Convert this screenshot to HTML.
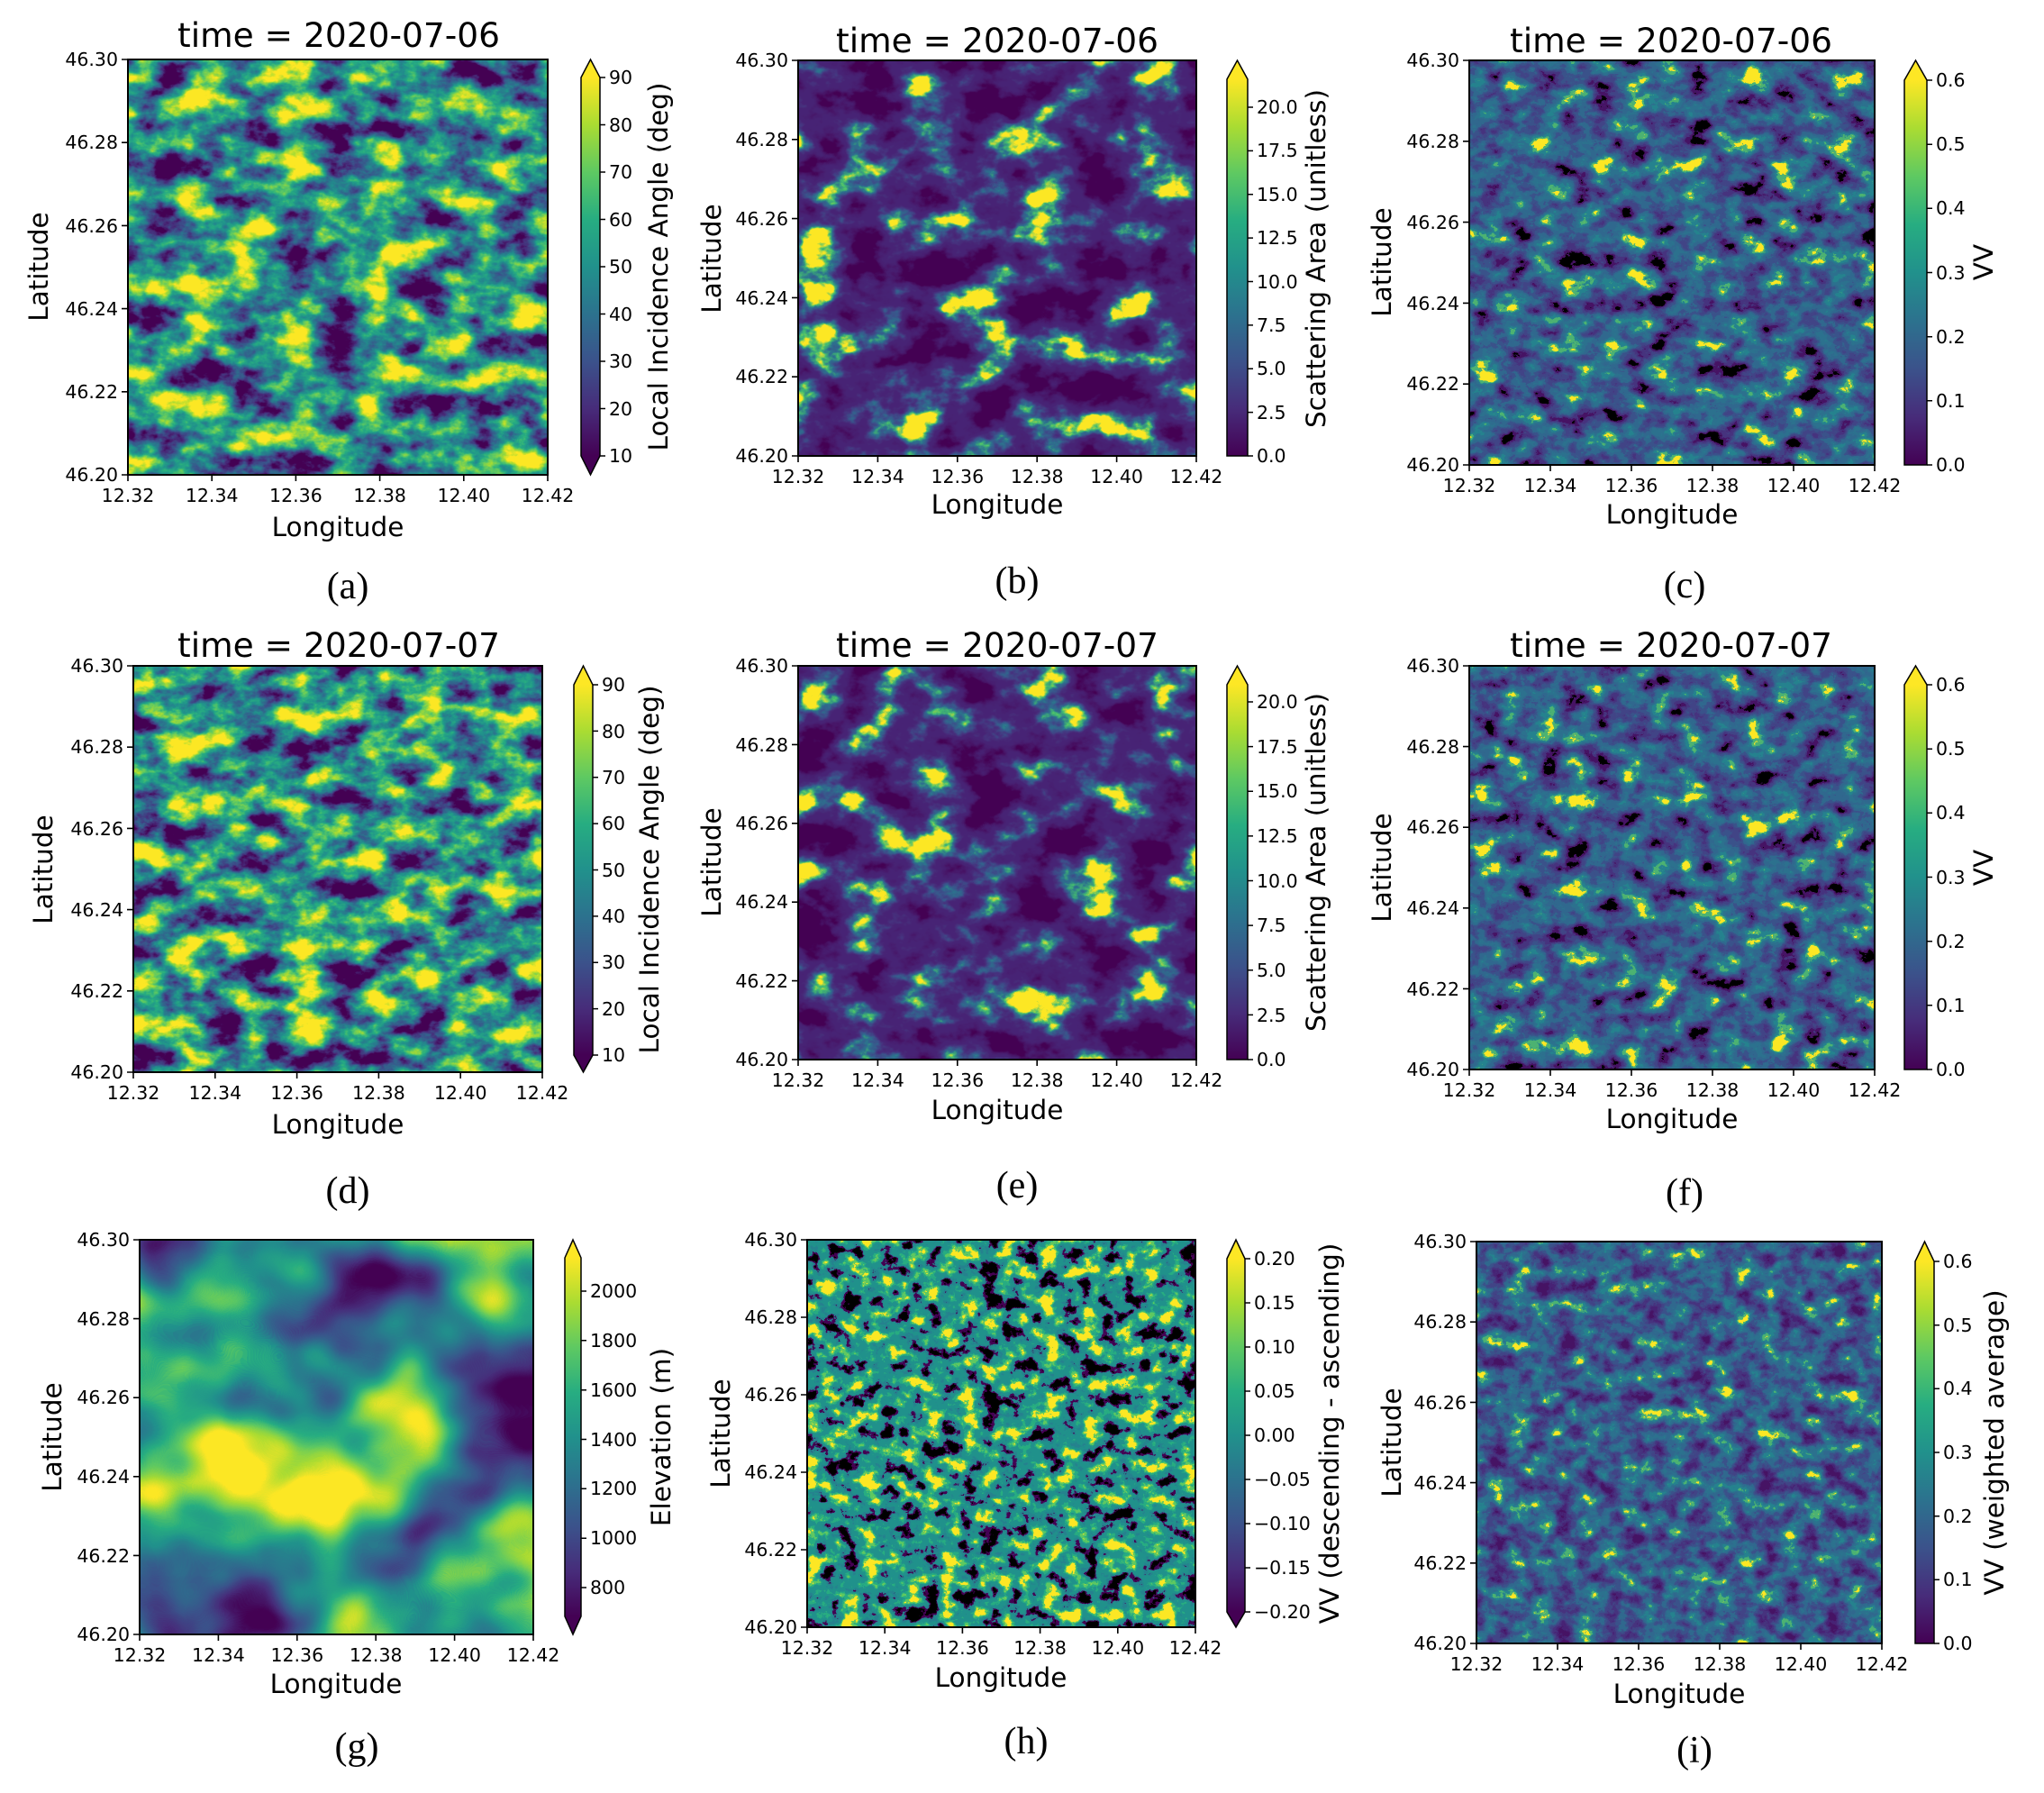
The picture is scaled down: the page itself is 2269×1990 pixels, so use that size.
<!DOCTYPE html>
<html><head><meta charset="utf-8"><style>
html,body{margin:0;padding:0;background:#fff}
svg{display:block}
.tk{font-family:"DejaVu Sans","Liberation Sans",sans-serif;font-size:20.5px;fill:#000}
.lb{font-family:"DejaVu Sans","Liberation Sans",sans-serif;font-size:29.5px;fill:#000}
.ti{font-family:"DejaVu Sans","Liberation Sans",sans-serif;font-size:37.5px;fill:#000}
.pl{font-family:"Liberation Serif",serif;font-size:42px;fill:#000}
</style></head><body>
<svg width="2269" height="1990" viewBox="0 0 2269 1990" xmlns="http://www.w3.org/2000/svg">
<defs>
<linearGradient id="vir" x1="0" y1="1" x2="0" y2="0">
<stop offset="0" stop-color="#440154"/><stop offset="0.125" stop-color="#472c7a"/><stop offset="0.25" stop-color="#3b528b"/><stop offset="0.375" stop-color="#2c728e"/><stop offset="0.5" stop-color="#21918c"/><stop offset="0.625" stop-color="#27ad81"/><stop offset="0.75" stop-color="#5ec962"/><stop offset="0.875" stop-color="#aadc32"/><stop offset="1" stop-color="#fde725"/>
</linearGradient>
<filter id="fA" x="0" y="0" width="100%" height="100%" color-interpolation-filters="sRGB">
<feTurbulence type="fractalNoise" baseFrequency="0.02 0.03" numOctaves="5" seed="3"/>
<feColorMatrix type="matrix" values="1 0 0 0 0 1 0 0 0 0 1 0 0 0 0 0 0 0 0 1"/>
<feComponentTransfer><feFuncR type="linear" slope="2.3" intercept="-0.65"/><feFuncG type="linear" slope="2.3" intercept="-0.65"/><feFuncB type="linear" slope="2.3" intercept="-0.65"/></feComponentTransfer>
<feComponentTransfer><feFuncR type="table" tableValues=".267 .278 .231 .173 .129 .153 .369 .667 .992"/><feFuncG type="table" tableValues=".004 .173 .322 .447 .569 .678 .788 .863 .906"/><feFuncB type="table" tableValues=".329 .478 .545 .557 .549 .506 .384 .196 .145"/></feComponentTransfer>
</filter>
<filter id="fD" x="0" y="0" width="100%" height="100%" color-interpolation-filters="sRGB">
<feTurbulence type="fractalNoise" baseFrequency="0.022 0.032" numOctaves="5" seed="11"/>
<feColorMatrix type="matrix" values="1 0 0 0 0 1 0 0 0 0 1 0 0 0 0 0 0 0 0 1"/>
<feComponentTransfer><feFuncR type="linear" slope="2.3" intercept="-0.65"/><feFuncG type="linear" slope="2.3" intercept="-0.65"/><feFuncB type="linear" slope="2.3" intercept="-0.65"/></feComponentTransfer>
<feComponentTransfer><feFuncR type="table" tableValues=".267 .278 .231 .173 .129 .153 .369 .667 .992"/><feFuncG type="table" tableValues=".004 .173 .322 .447 .569 .678 .788 .863 .906"/><feFuncB type="table" tableValues=".329 .478 .545 .557 .549 .506 .384 .196 .145"/></feComponentTransfer>
</filter>
<filter id="fB" x="0" y="0" width="100%" height="100%" color-interpolation-filters="sRGB">
<feTurbulence type="fractalNoise" baseFrequency="0.016 0.022" numOctaves="5" seed="5"/>
<feColorMatrix type="matrix" values="1 0 0 0 0 1 0 0 0 0 1 0 0 0 0 0 0 0 0 1"/>
<feComponentTransfer><feFuncR type="linear" slope="2.3" intercept="-0.65"/><feFuncG type="linear" slope="2.3" intercept="-0.65"/><feFuncB type="linear" slope="2.3" intercept="-0.65"/></feComponentTransfer>
<feComponentTransfer><feFuncR type="table" tableValues=".267 .267 .278 .282 .282 .282 .275 .231 .173 .267 .992"/><feFuncG type="table" tableValues=".004 .004 .075 .118 .141 .141 .2 .322 .447 .745 .906"/><feFuncB type="table" tableValues=".329 .329 .396 .439 .459 .459 .498 .545 .557 .439 .145"/></feComponentTransfer>
</filter>
<filter id="fE" x="0" y="0" width="100%" height="100%" color-interpolation-filters="sRGB">
<feTurbulence type="fractalNoise" baseFrequency="0.016 0.022" numOctaves="5" seed="21"/>
<feColorMatrix type="matrix" values="1 0 0 0 0 1 0 0 0 0 1 0 0 0 0 0 0 0 0 1"/>
<feComponentTransfer><feFuncR type="linear" slope="2.3" intercept="-0.65"/><feFuncG type="linear" slope="2.3" intercept="-0.65"/><feFuncB type="linear" slope="2.3" intercept="-0.65"/></feComponentTransfer>
<feComponentTransfer><feFuncR type="table" tableValues=".267 .267 .278 .282 .282 .282 .275 .231 .173 .267 .992"/><feFuncG type="table" tableValues=".004 .004 .075 .118 .141 .141 .2 .322 .447 .745 .906"/><feFuncB type="table" tableValues=".329 .329 .396 .439 .459 .459 .498 .545 .557 .439 .145"/></feComponentTransfer>
</filter>
<filter id="fC" x="0" y="0" width="100%" height="100%" color-interpolation-filters="sRGB">
<feTurbulence type="fractalNoise" baseFrequency="0.03 0.04" numOctaves="6" seed="7"/>
<feColorMatrix type="matrix" values="1 0 0 0 0 1 0 0 0 0 1 0 0 0 0 0 0 0 0 1"/>
<feComponentTransfer><feFuncR type="linear" slope="1.7" intercept="-0.35"/><feFuncG type="linear" slope="1.7" intercept="-0.35"/><feFuncB type="linear" slope="1.7" intercept="-0.35"/></feComponentTransfer>
<feComponentTransfer><feFuncR type="discrete" tableValues="0 .278 .275 .255 .231 .192 .173 .149 .3 .992"/><feFuncG type="discrete" tableValues="0 .075 .2 .267 .322 .408 .447 .51 .7 .906"/><feFuncB type="discrete" tableValues="0 .396 .498 .529 .545 .557 .557 .557 .45 .145"/></feComponentTransfer>
</filter>
<filter id="fF" x="0" y="0" width="100%" height="100%" color-interpolation-filters="sRGB">
<feTurbulence type="fractalNoise" baseFrequency="0.03 0.04" numOctaves="6" seed="17"/>
<feColorMatrix type="matrix" values="1 0 0 0 0 1 0 0 0 0 1 0 0 0 0 0 0 0 0 1"/>
<feComponentTransfer><feFuncR type="linear" slope="1.7" intercept="-0.35"/><feFuncG type="linear" slope="1.7" intercept="-0.35"/><feFuncB type="linear" slope="1.7" intercept="-0.35"/></feComponentTransfer>
<feComponentTransfer><feFuncR type="discrete" tableValues="0 .278 .275 .255 .231 .192 .173 .149 .3 .992"/><feFuncG type="discrete" tableValues="0 .075 .2 .267 .322 .408 .447 .51 .7 .906"/><feFuncB type="discrete" tableValues="0 .396 .498 .529 .545 .557 .557 .557 .45 .145"/></feComponentTransfer>
</filter>
<filter id="fI" x="0" y="0" width="100%" height="100%" color-interpolation-filters="sRGB">
<feTurbulence type="fractalNoise" baseFrequency="0.04 0.05" numOctaves="6" seed="29"/>
<feColorMatrix type="matrix" values="1 0 0 0 0 1 0 0 0 0 1 0 0 0 0 0 0 0 0 1"/>
<feComponentTransfer><feFuncR type="linear" slope="1.6" intercept="-0.3"/><feFuncG type="linear" slope="1.6" intercept="-0.3"/><feFuncB type="linear" slope="1.6" intercept="-0.3"/></feComponentTransfer>
<feComponentTransfer><feFuncR type="discrete" tableValues=".278 .282 .275 .255 .231 .192 .173 .149 .3 .992"/><feFuncG type="discrete" tableValues=".075 .141 .2 .267 .322 .408 .447 .51 .7 .906"/><feFuncB type="discrete" tableValues=".396 .459 .498 .529 .545 .557 .557 .557 .45 .145"/></feComponentTransfer>
</filter>
<filter id="fH" x="0" y="0" width="100%" height="100%" color-interpolation-filters="sRGB">
<feTurbulence type="fractalNoise" baseFrequency="0.045 0.055" numOctaves="6" seed="41"/>
<feColorMatrix type="matrix" values="1 0 0 0 0 1 0 0 0 0 1 0 0 0 0 0 0 0 0 1"/>
<feComponentTransfer><feFuncR type="linear" slope="1.7" intercept="-0.35"/><feFuncG type="linear" slope="1.7" intercept="-0.35"/><feFuncB type="linear" slope="1.7" intercept="-0.35"/></feComponentTransfer>
<feComponentTransfer><feFuncR type="discrete" tableValues="0 0 .267 .149 .129 .129 .153 .369 .992 .992"/><feFuncG type="discrete" tableValues="0 0 .004 .51 .569 .569 .678 .788 .906 .906"/><feFuncB type="discrete" tableValues="0 0 .329 .557 .549 .549 .506 .384 .145 .145"/></feComponentTransfer>
</filter>
<filter id="fG" x="0" y="0" width="100%" height="100%" color-interpolation-filters="sRGB">
<feTurbulence type="fractalNoise" baseFrequency="0.006 0.007" numOctaves="3" seed="8"/>
<feColorMatrix type="matrix" values="1 0 0 0 0 1 0 0 0 0 1 0 0 0 0 0 0 0 0 1"/>
<feComponentTransfer><feFuncR type="linear" slope="2.2" intercept="-0.6"/><feFuncG type="linear" slope="2.2" intercept="-0.6"/><feFuncB type="linear" slope="2.2" intercept="-0.6"/></feComponentTransfer>
<feComponentTransfer><feFuncR type="table" tableValues=".267 .278 .231 .173 .129 .153 .369 .667 .992"/><feFuncG type="table" tableValues=".004 .173 .322 .447 .569 .678 .788 .863 .906"/><feFuncB type="table" tableValues=".329 .478 .545 .557 .549 .506 .384 .196 .145"/></feComponentTransfer>
</filter>
</defs>

<!-- ===== Panel a ===== -->
<rect x="142" y="66" width="466" height="461" filter="url(#fA)"/>
<rect x="142" y="66" width="466" height="461" fill="none" stroke="#000" stroke-width="2"/>
<path d="M142 527v7M235.2 527v7M328.4 527v7M421.6 527v7M514.8 527v7M608 527v7M142 527h-7M142 434.8h-7M142 342.6h-7M142 250.4h-7M142 158.2h-7M142 66h-7" stroke="#000" stroke-width="1.6"/>
<g class="tk" text-anchor="middle"><text x="142" y="557">12.32</text><text x="235.2" y="557">12.34</text><text x="328.4" y="557">12.36</text><text x="421.6" y="557">12.38</text><text x="514.8" y="557">12.40</text><text x="608" y="557">12.42</text></g>
<g class="tk" text-anchor="end"><text x="131" y="534">46.20</text><text x="131" y="442">46.22</text><text x="131" y="350">46.24</text><text x="131" y="258">46.26</text><text x="131" y="165">46.28</text><text x="131" y="73">46.30</text></g>
<text class="ti" x="376" y="52" text-anchor="middle">time = 2020-07-06</text>
<text class="lb" x="375" y="595" text-anchor="middle">Longitude</text>
<text class="lb" transform="translate(43,296) rotate(-90)" text-anchor="middle" dominant-baseline="central">Latitude</text>
<rect x="645" y="86" width="21" height="420" fill="url(#vir)"/>
<path d="M645 86L655.5 66L666 86Z" fill="#fde725"/><path d="M645 506L655.5 527L666 506Z" fill="#440154"/>
<path d="M645 86L655.5 66L666 86V506L655.5 527L645 506Z" fill="none" stroke="#000" stroke-width="1.5"/>
<path d="M666 506h6M666 453.5h6M666 401h6M666 348.5h6M666 296h6M666 243.5h6M666 191h6M666 138.5h6M666 86h6" stroke="#000" stroke-width="1.5"/>
<g class="tk"><text x="676" y="513">10</text><text x="676" y="461">20</text><text x="676" y="408">30</text><text x="676" y="356">40</text><text x="676" y="303">50</text><text x="676" y="251">60</text><text x="676" y="198">70</text><text x="676" y="146">80</text><text x="676" y="93">90</text></g>
<text class="lb" transform="translate(731,296) rotate(-90)" text-anchor="middle" dominant-baseline="central">Local Incidence Angle (deg)</text>
<text class="pl" x="386" y="651" text-anchor="middle" dominant-baseline="central">(a)</text>

<!-- ===== Panel b ===== -->
<rect x="886" y="67" width="442" height="439" filter="url(#fB)"/>
<rect x="886" y="67" width="442" height="439" fill="none" stroke="#000" stroke-width="2"/>
<path d="M886 506v7M974.4 506v7M1062.8 506v7M1151.2 506v7M1239.6 506v7M1328 506v7M886 506h-7M886 418.2h-7M886 330.4h-7M886 242.6h-7M886 154.8h-7M886 67h-7" stroke="#000" stroke-width="1.6"/>
<g class="tk" text-anchor="middle"><text x="886" y="536">12.32</text><text x="974.4" y="536">12.34</text><text x="1062.8" y="536">12.36</text><text x="1151.2" y="536">12.38</text><text x="1239.6" y="536">12.40</text><text x="1328" y="536">12.42</text></g>
<g class="tk" text-anchor="end"><text x="875" y="513">46.20</text><text x="875" y="425">46.22</text><text x="875" y="338">46.24</text><text x="875" y="250">46.26</text><text x="875" y="162">46.28</text><text x="875" y="74">46.30</text></g>
<text class="ti" x="1107" y="58" text-anchor="middle">time = 2020-07-06</text>
<text class="lb" x="1107" y="570" text-anchor="middle">Longitude</text>
<text class="lb" transform="translate(790,287) rotate(-90)" text-anchor="middle" dominant-baseline="central">Latitude</text>
<rect x="1362" y="88" width="23" height="418" fill="url(#vir)"/>
<path d="M1362 88L1373.5 67L1385 88Z" fill="#fde725"/>
<path d="M1362 88L1373.5 67L1385 88V506H1362Z" fill="none" stroke="#000" stroke-width="1.5"/>
<path d="M1385 506h6M1385 457.6h6M1385 409.3h6M1385 360.9h6M1385 312.5h6M1385 264.1h6M1385 215.8h6M1385 167.4h6M1385 119h6" stroke="#000" stroke-width="1.5"/>
<g class="tk"><text x="1395" y="513">0.0</text><text x="1395" y="465">2.5</text><text x="1395" y="416">5.0</text><text x="1395" y="368">7.5</text><text x="1395" y="320">10.0</text><text x="1395" y="271">12.5</text><text x="1395" y="223">15.0</text><text x="1395" y="174">17.5</text><text x="1395" y="126">20.0</text></g>
<text class="lb" transform="translate(1461,287) rotate(-90)" text-anchor="middle" dominant-baseline="central">Scattering Area (unitless)</text>
<text class="pl" x="1129" y="645" text-anchor="middle" dominant-baseline="central">(b)</text>

<!-- ===== Panel c ===== -->
<rect x="1631" y="67" width="450" height="449" filter="url(#fC)"/>
<rect x="1631" y="67" width="450" height="449" fill="none" stroke="#000" stroke-width="2"/>
<path d="M1631 516v7M1721 516v7M1811 516v7M1901 516v7M1991 516v7M2081 516v7M1631 516h-7M1631 426.2h-7M1631 336.4h-7M1631 246.6h-7M1631 156.8h-7M1631 67h-7" stroke="#000" stroke-width="1.6"/>
<g class="tk" text-anchor="middle"><text x="1631" y="546">12.32</text><text x="1721" y="546">12.34</text><text x="1811" y="546">12.36</text><text x="1901" y="546">12.38</text><text x="1991" y="546">12.40</text><text x="2081" y="546">12.42</text></g>
<g class="tk" text-anchor="end"><text x="1620" y="523">46.20</text><text x="1620" y="433">46.22</text><text x="1620" y="344">46.24</text><text x="1620" y="254">46.26</text><text x="1620" y="164">46.28</text><text x="1620" y="74">46.30</text></g>
<text class="ti" x="1855" y="58" text-anchor="middle">time = 2020-07-06</text>
<text class="lb" x="1856" y="581" text-anchor="middle">Longitude</text>
<text class="lb" transform="translate(1534,291) rotate(-90)" text-anchor="middle" dominant-baseline="central">Latitude</text>
<rect x="2114" y="89" width="25" height="427" fill="url(#vir)"/>
<path d="M2114 89L2126.5 67L2139 89Z" fill="#fde725"/>
<path d="M2114 89L2126.5 67L2139 89V516H2114Z" fill="none" stroke="#000" stroke-width="1.5"/>
<path d="M2139 516h6M2139 444.8h6M2139 373.7h6M2139 302.5h6M2139 231.3h6M2139 160.2h6M2139 89h6" stroke="#000" stroke-width="1.5"/>
<g class="tk"><text x="2149" y="523">0.0</text><text x="2149" y="452">0.1</text><text x="2149" y="381">0.2</text><text x="2149" y="310">0.3</text><text x="2149" y="238">0.4</text><text x="2149" y="167">0.5</text><text x="2149" y="96">0.6</text></g>
<text class="lb" transform="translate(2202,291) rotate(-90)" text-anchor="middle" dominant-baseline="central">VV</text>
<text class="pl" x="1870" y="650" text-anchor="middle" dominant-baseline="central">(c)</text>

<!-- ===== Panel d ===== -->
<rect x="148" y="739" width="454" height="451" filter="url(#fD)"/>
<rect x="148" y="739" width="454" height="451" fill="none" stroke="#000" stroke-width="2"/>
<path d="M148 1190v7M238.8 1190v7M329.6 1190v7M420.4 1190v7M511.2 1190v7M602 1190v7M148 1190h-7M148 1099.8h-7M148 1009.6h-7M148 919.4h-7M148 829.2h-7M148 739h-7" stroke="#000" stroke-width="1.6"/>
<g class="tk" text-anchor="middle"><text x="148" y="1220">12.32</text><text x="238.8" y="1220">12.34</text><text x="329.6" y="1220">12.36</text><text x="420.4" y="1220">12.38</text><text x="511.2" y="1220">12.40</text><text x="602" y="1220">12.42</text></g>
<g class="tk" text-anchor="end"><text x="137" y="1197">46.20</text><text x="137" y="1107">46.22</text><text x="137" y="1017">46.24</text><text x="137" y="927">46.26</text><text x="137" y="836">46.28</text><text x="137" y="746">46.30</text></g>
<text class="ti" x="376" y="729" text-anchor="middle">time = 2020-07-07</text>
<text class="lb" x="375" y="1258" text-anchor="middle">Longitude</text>
<text class="lb" transform="translate(48,965) rotate(-90)" text-anchor="middle" dominant-baseline="central">Latitude</text>
<rect x="637" y="760" width="21" height="411" fill="url(#vir)"/>
<path d="M637 760L647.5 739L658 760Z" fill="#fde725"/><path d="M637 1171L647.5 1190L658 1171Z" fill="#440154"/>
<path d="M637 760L647.5 739L658 760V1171L647.5 1190L637 1171Z" fill="none" stroke="#000" stroke-width="1.5"/>
<path d="M658 1171h6M658 1119.6h6M658 1068.3h6M658 1016.9h6M658 965.5h6M658 914.1h6M658 862.8h6M658 811.4h6M658 760h6" stroke="#000" stroke-width="1.5"/>
<g class="tk"><text x="668" y="1178">10</text><text x="668" y="1127">20</text><text x="668" y="1075">30</text><text x="668" y="1024">40</text><text x="668" y="973">50</text><text x="668" y="921">60</text><text x="668" y="870">70</text><text x="668" y="819">80</text><text x="668" y="767">90</text></g>
<text class="lb" transform="translate(721,965) rotate(-90)" text-anchor="middle" dominant-baseline="central">Local Incidence Angle (deg)</text>
<text class="pl" x="386" y="1322" text-anchor="middle" dominant-baseline="central">(d)</text>

<!-- ===== Panel e ===== -->
<rect x="886" y="739" width="442" height="437" filter="url(#fE)"/>
<rect x="886" y="739" width="442" height="437" fill="none" stroke="#000" stroke-width="2"/>
<path d="M886 1176v7M974.4 1176v7M1062.8 1176v7M1151.2 1176v7M1239.6 1176v7M1328 1176v7M886 1176h-7M886 1088.6h-7M886 1001.2h-7M886 913.8h-7M886 826.4h-7M886 739h-7" stroke="#000" stroke-width="1.6"/>
<g class="tk" text-anchor="middle"><text x="886" y="1206">12.32</text><text x="974.4" y="1206">12.34</text><text x="1062.8" y="1206">12.36</text><text x="1151.2" y="1206">12.38</text><text x="1239.6" y="1206">12.40</text><text x="1328" y="1206">12.42</text></g>
<g class="tk" text-anchor="end"><text x="875" y="1183">46.20</text><text x="875" y="1096">46.22</text><text x="875" y="1008">46.24</text><text x="875" y="921">46.26</text><text x="875" y="834">46.28</text><text x="875" y="746">46.30</text></g>
<text class="ti" x="1107" y="729" text-anchor="middle">time = 2020-07-07</text>
<text class="lb" x="1107" y="1242" text-anchor="middle">Longitude</text>
<text class="lb" transform="translate(790,957) rotate(-90)" text-anchor="middle" dominant-baseline="central">Latitude</text>
<rect x="1362" y="760" width="23" height="416" fill="url(#vir)"/>
<path d="M1362 760L1373.5 739L1385 760Z" fill="#fde725"/>
<path d="M1362 760L1373.5 739L1385 760V1176H1362Z" fill="none" stroke="#000" stroke-width="1.5"/>
<path d="M1385 1176h6M1385 1126.4h6M1385 1076.8h6M1385 1027.1h6M1385 977.5h6M1385 927.9h6M1385 878.3h6M1385 828.6h6M1385 779h6" stroke="#000" stroke-width="1.5"/>
<g class="tk"><text x="1395" y="1183">0.0</text><text x="1395" y="1134">2.5</text><text x="1395" y="1084">5.0</text><text x="1395" y="1034">7.5</text><text x="1395" y="985">10.0</text><text x="1395" y="935">12.5</text><text x="1395" y="885">15.0</text><text x="1395" y="836">17.5</text><text x="1395" y="786">20.0</text></g>
<text class="lb" transform="translate(1461,957) rotate(-90)" text-anchor="middle" dominant-baseline="central">Scattering Area (unitless)</text>
<text class="pl" x="1129" y="1316" text-anchor="middle" dominant-baseline="central">(e)</text>

<!-- ===== Panel f ===== -->
<rect x="1631" y="739" width="450" height="448" filter="url(#fF)"/>
<rect x="1631" y="739" width="450" height="448" fill="none" stroke="#000" stroke-width="2"/>
<path d="M1631 1187v7M1721 1187v7M1811 1187v7M1901 1187v7M1991 1187v7M2081 1187v7M1631 1187h-7M1631 1097.4h-7M1631 1007.8h-7M1631 918.2h-7M1631 828.6h-7M1631 739h-7" stroke="#000" stroke-width="1.6"/>
<g class="tk" text-anchor="middle"><text x="1631" y="1217">12.32</text><text x="1721" y="1217">12.34</text><text x="1811" y="1217">12.36</text><text x="1901" y="1217">12.38</text><text x="1991" y="1217">12.40</text><text x="2081" y="1217">12.42</text></g>
<g class="tk" text-anchor="end"><text x="1620" y="1194">46.20</text><text x="1620" y="1105">46.22</text><text x="1620" y="1015">46.24</text><text x="1620" y="925">46.26</text><text x="1620" y="836">46.28</text><text x="1620" y="746">46.30</text></g>
<text class="ti" x="1855" y="729" text-anchor="middle">time = 2020-07-07</text>
<text class="lb" x="1856" y="1252" text-anchor="middle">Longitude</text>
<text class="lb" transform="translate(1534,963) rotate(-90)" text-anchor="middle" dominant-baseline="central">Latitude</text>
<rect x="2114" y="760" width="25" height="427" fill="url(#vir)"/>
<path d="M2114 760L2126.5 739L2139 760Z" fill="#fde725"/>
<path d="M2114 760L2126.5 739L2139 760V1187H2114Z" fill="none" stroke="#000" stroke-width="1.5"/>
<path d="M2139 1187h6M2139 1115.8h6M2139 1044.7h6M2139 973.5h6M2139 902.3h6M2139 831.2h6M2139 760h6" stroke="#000" stroke-width="1.5"/>
<g class="tk"><text x="2149" y="1194">0.0</text><text x="2149" y="1123">0.1</text><text x="2149" y="1052">0.2</text><text x="2149" y="981">0.3</text><text x="2149" y="909">0.4</text><text x="2149" y="838">0.5</text><text x="2149" y="767">0.6</text></g>
<text class="lb" transform="translate(2202,963) rotate(-90)" text-anchor="middle" dominant-baseline="central">VV</text>
<text class="pl" x="1870" y="1324" text-anchor="middle" dominant-baseline="central">(f)</text>

<!-- ===== Panel g ===== -->
<rect x="155" y="1376" width="437" height="438" filter="url(#fG)"/>
<rect x="155" y="1376" width="437" height="438" fill="none" stroke="#000" stroke-width="2"/>
<path d="M155 1814v7M242.4 1814v7M329.8 1814v7M417.2 1814v7M504.6 1814v7M592 1814v7M155 1814h-7M155 1726.4h-7M155 1638.8h-7M155 1551.2h-7M155 1463.6h-7M155 1376h-7" stroke="#000" stroke-width="1.6"/>
<g class="tk" text-anchor="middle"><text x="155" y="1844">12.32</text><text x="242.4" y="1844">12.34</text><text x="329.8" y="1844">12.36</text><text x="417.2" y="1844">12.38</text><text x="504.6" y="1844">12.40</text><text x="592" y="1844">12.42</text></g>
<g class="tk" text-anchor="end"><text x="144" y="1821">46.20</text><text x="144" y="1734">46.22</text><text x="144" y="1646">46.24</text><text x="144" y="1558">46.26</text><text x="144" y="1471">46.28</text><text x="144" y="1383">46.30</text></g>
<text class="lb" x="373" y="1879" text-anchor="middle">Longitude</text>
<text class="lb" transform="translate(58,1595) rotate(-90)" text-anchor="middle" dominant-baseline="central">Latitude</text>
<rect x="627" y="1396" width="18" height="398" fill="url(#vir)"/>
<path d="M627 1396L636 1376L645 1396Z" fill="#fde725"/><path d="M627 1794L636 1814L645 1794Z" fill="#440154"/>
<path d="M627 1396L636 1376L645 1396V1794L636 1814L627 1794Z" fill="none" stroke="#000" stroke-width="1.5"/>
<path d="M645 1762h6M645 1707.2h6M645 1652.3h6M645 1597.5h6M645 1542.7h6M645 1487.8h6M645 1433h6" stroke="#000" stroke-width="1.5"/>
<g class="tk"><text x="655" y="1769">800</text><text x="655" y="1714">1000</text><text x="655" y="1659">1200</text><text x="655" y="1605">1400</text><text x="655" y="1550">1600</text><text x="655" y="1495">1800</text><text x="655" y="1440">2000</text></g>
<text class="lb" transform="translate(734,1595) rotate(-90)" text-anchor="middle" dominant-baseline="central">Elevation (m)</text>
<text class="pl" x="396" y="1939" text-anchor="middle" dominant-baseline="central">(g)</text>

<!-- ===== Panel h ===== -->
<rect x="896" y="1376" width="431" height="430" filter="url(#fH)"/>
<rect x="896" y="1376" width="431" height="430" fill="none" stroke="#000" stroke-width="2"/>
<path d="M896 1806v7M982.2 1806v7M1068.4 1806v7M1154.6 1806v7M1240.8 1806v7M1327 1806v7M896 1806h-7M896 1720h-7M896 1634h-7M896 1548h-7M896 1462h-7M896 1376h-7" stroke="#000" stroke-width="1.6"/>
<g class="tk" text-anchor="middle"><text x="896" y="1836">12.32</text><text x="982.2" y="1836">12.34</text><text x="1068.4" y="1836">12.36</text><text x="1154.6" y="1836">12.38</text><text x="1240.8" y="1836">12.40</text><text x="1327" y="1836">12.42</text></g>
<g class="tk" text-anchor="end"><text x="885" y="1813">46.20</text><text x="885" y="1727">46.22</text><text x="885" y="1641">46.24</text><text x="885" y="1555">46.26</text><text x="885" y="1469">46.28</text><text x="885" y="1383">46.30</text></g>
<text class="lb" x="1111" y="1872" text-anchor="middle">Longitude</text>
<text class="lb" transform="translate(800,1591) rotate(-90)" text-anchor="middle" dominant-baseline="central">Latitude</text>
<rect x="1362" y="1397" width="20" height="392" fill="url(#vir)"/>
<path d="M1362 1397L1372 1376L1382 1397Z" fill="#fde725"/><path d="M1362 1789L1372 1806L1382 1789Z" fill="#440154"/>
<path d="M1362 1397L1372 1376L1382 1397V1789L1372 1806L1362 1789Z" fill="none" stroke="#000" stroke-width="1.5"/>
<path d="M1382 1789h6M1382 1740h6M1382 1691h6M1382 1642h6M1382 1593h6M1382 1544h6M1382 1495h6M1382 1446h6M1382 1397h6" stroke="#000" stroke-width="1.5"/>
<g class="tk"><text x="1392" y="1796">−0.20</text><text x="1392" y="1747">−0.15</text><text x="1392" y="1698">−0.10</text><text x="1392" y="1649">−0.05</text><text x="1392" y="1600">0.00</text><text x="1392" y="1551">0.05</text><text x="1392" y="1502">0.10</text><text x="1392" y="1453">0.15</text><text x="1392" y="1404">0.20</text></g>
<text class="lb" transform="translate(1476,1591) rotate(-90)" text-anchor="middle" dominant-baseline="central">VV (descending - ascending)</text>
<text class="pl" x="1139" y="1933" text-anchor="middle" dominant-baseline="central">(h)</text>

<!-- ===== Panel i ===== -->
<rect x="1639" y="1378" width="450" height="446" filter="url(#fI)"/>
<rect x="1639" y="1378" width="450" height="446" fill="none" stroke="#000" stroke-width="2"/>
<path d="M1639 1824v7M1729 1824v7M1819 1824v7M1909 1824v7M1999 1824v7M2089 1824v7M1639 1824h-7M1639 1734.8h-7M1639 1645.6h-7M1639 1556.4h-7M1639 1467.2h-7M1639 1378h-7" stroke="#000" stroke-width="1.6"/>
<g class="tk" text-anchor="middle"><text x="1639" y="1854">12.32</text><text x="1729" y="1854">12.34</text><text x="1819" y="1854">12.36</text><text x="1909" y="1854">12.38</text><text x="1999" y="1854">12.40</text><text x="2089" y="1854">12.42</text></g>
<g class="tk" text-anchor="end"><text x="1628" y="1831">46.20</text><text x="1628" y="1742">46.22</text><text x="1628" y="1653">46.24</text><text x="1628" y="1564">46.26</text><text x="1628" y="1474">46.28</text><text x="1628" y="1385">46.30</text></g>
<text class="lb" x="1864" y="1890" text-anchor="middle">Longitude</text>
<text class="lb" transform="translate(1545,1601) rotate(-90)" text-anchor="middle" dominant-baseline="central">Latitude</text>
<rect x="2126" y="1400" width="21" height="424" fill="url(#vir)"/>
<path d="M2126 1400L2136.5 1378L2147 1400Z" fill="#fde725"/>
<path d="M2126 1400L2136.5 1378L2147 1400V1824H2126Z" fill="none" stroke="#000" stroke-width="1.5"/>
<path d="M2147 1824h6M2147 1753.3h6M2147 1682.7h6M2147 1612h6M2147 1541.3h6M2147 1470.7h6M2147 1400h6" stroke="#000" stroke-width="1.5"/>
<g class="tk"><text x="2157" y="1831">0.0</text><text x="2157" y="1760">0.1</text><text x="2157" y="1690">0.2</text><text x="2157" y="1619">0.3</text><text x="2157" y="1548">0.4</text><text x="2157" y="1478">0.5</text><text x="2157" y="1407">0.6</text></g>
<text class="lb" transform="translate(2214,1601) rotate(-90)" text-anchor="middle" dominant-baseline="central">VV (weighted average)</text>
<text class="pl" x="1881" y="1943" text-anchor="middle" dominant-baseline="central">(i)</text>
</svg>
</body></html>
